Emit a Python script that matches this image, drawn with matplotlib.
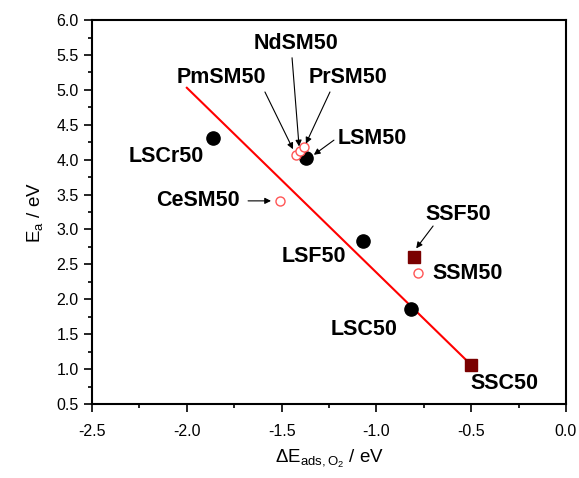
import matplotlib
matplotlib.use("Agg")
import matplotlib.pyplot as plt
from matplotlib.ticker import MultipleLocator

plt.rcParams['font.family'] = ['Liberation Sans', 'DejaVu Sans']
plt.rcParams['mathtext.fontset'] = 'custom'
plt.rcParams['mathtext.rm'] = 'Liberation Sans'
plt.rcParams['mathtext.it'] = 'Liberation Sans'
plt.rcParams['axes.unicode_minus'] = False

# Data
ls_names = ["LSCr50", "LSM50", "LSF50", "LSC50"]
ls_x = [-1.86, -1.37, -1.07, -0.82]
ls_y = [4.31, 4.02, 2.83, 1.86]

ss_names = ["SSF50", "SSC50"]
ss_x = [-0.80, -0.50]
ss_y = [2.61, 1.06]

open_names = ["CeSM50", "PmSM50", "NdSM50", "PrSM50", "SSM50"]
open_x = [-1.51, -1.425, -1.403, -1.382, -0.78]
open_y = [3.41, 4.07, 4.13, 4.18, 2.375]

fit_x = [-2.0, -0.5]
fit_y = [5.03, 1.06]

# label positions (data coords) and arrow (start, end)
labels = {
    "NdSM50": ((-1.424, 5.66), ((-1.445, 5.46), (-1.408, 4.19))),
    "PmSM50": ((-1.820, 5.18), ((-1.588, 4.97), (-1.440, 4.15))),
    "PrSM50": ((-1.150, 5.18), ((-1.245, 4.97), (-1.372, 4.23))),
    "LSM50": ((-1.023, 4.30), ((-1.224, 4.28), (-1.330, 4.07))),
    "LSCr50": ((-2.110, 4.05), None),
    "CeSM50": ((-1.941, 3.41), ((-1.677, 3.41), (-1.556, 3.41))),
    "SSF50": ((-0.570, 3.22), ((-0.701, 3.05), (-0.790, 2.73))),
    "LSF50": ((-1.329, 2.62), None),
    "SSM50": ((-0.517, 2.375), None),
    "LSC50": ((-1.065, 1.57), None),
    "SSC50": ((-0.322, 0.80), None),
}

fig = plt.figure(figsize=(5.79, 4.78), dpi=100)
ax = fig.add_axes([0.159, 0.1548, 0.8185, 0.8032])

ax.plot(fit_x, fit_y, color='red', lw=1.5, zorder=2)
ax.plot(ls_x, ls_y, 'o', color='black', ms=9.5, zorder=3)
ax.plot(ss_x, ss_y, 's', color='#7a0000', ms=8.5, zorder=3)
ax.plot(open_x, open_y, 'o', mfc='white', mec='#ff5555', mew=1.0, ms=6.5, zorder=3)

for name, (pos, arr) in labels.items():
    ax.text(pos[0], pos[1], name, ha='center', va='center', fontsize=15.5,
            fontweight='bold', color='black', zorder=4)
    if arr is not None:
        (sx, sy), (ex, ey) = arr
        ax.annotate('', xy=(ex, ey), xytext=(sx, sy),
                    arrowprops=dict(arrowstyle='-|>', color='black', lw=0.8,
                                    mutation_scale=9, shrinkA=0, shrinkB=0),
                    zorder=4)

ax.set_xlim(-2.5, 0.0)
ax.set_ylim(0.5, 6.0)
ax.xaxis.set_major_locator(MultipleLocator(0.5))
ax.xaxis.set_minor_locator(MultipleLocator(0.25))
ax.yaxis.set_major_locator(MultipleLocator(0.5))
ax.yaxis.set_minor_locator(MultipleLocator(0.25))
ax.tick_params(which='both', direction='out', top=False, right=False, width=1.2)
ax.tick_params(which='major', length=5.5, labelsize=11.5)
ax.tick_params(which='minor', length=3)
ax.tick_params(axis='x', which='major', pad=9)
ax.tick_params(axis='y', which='major', pad=4)
for s in ax.spines.values():
    s.set_linewidth(1.5)

ax.set_xlabel(r'$\Delta$E$_{\mathregular{ads,O_2}}$ / eV', fontsize=13.5, labelpad=6)
ax.set_ylabel(r'E$_\mathregular{a}$ / eV', fontsize=13.5, labelpad=8)

fig.savefig('out.png', dpi=100)
